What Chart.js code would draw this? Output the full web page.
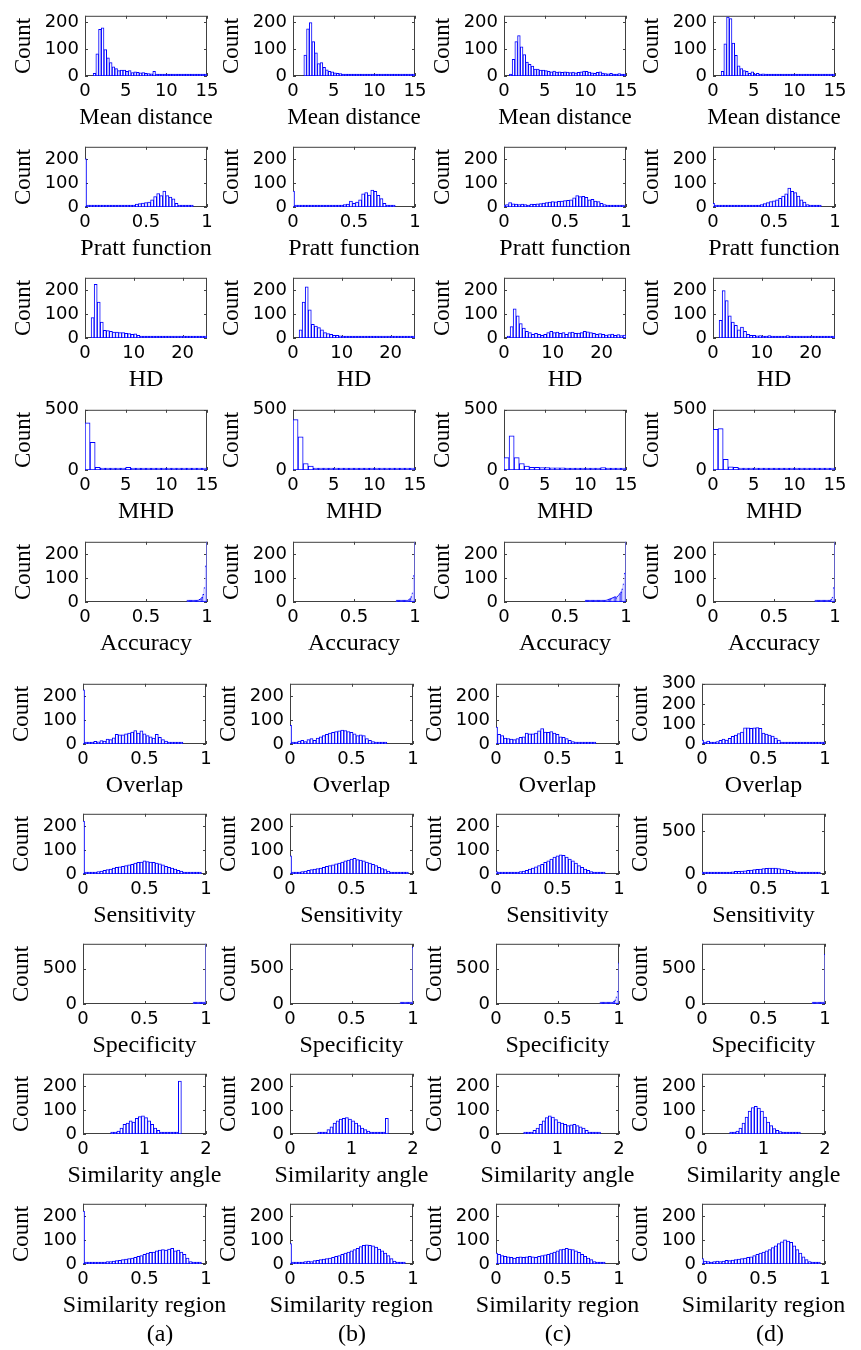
<!DOCTYPE html>
<html lang="en">
<head>
<meta charset="UTF-8">
<title>Histograms of segmentation measures</title>
<style>
    body { margin: 0; background: #fff; }
    #page { position: relative; width: 861px; height: 1350px; overflow: hidden; }
    #page canvas { position: absolute; }
    .panel-label {
        position: absolute;
        font-family: "Liberation Serif", serif;
        font-size: 24px;
        color: #000;
        transform: translate(-50%, -50%);
    }
</style>
</head>
<body>
<div id="page"></div>

<script src="https://cdn.jsdelivr.net/npm/chart.js"></script>
<script>
// ---- data (counts per bin; null = no bin there) ----
var rowTitles = ['Mean distance', 'Pratt function', 'HD', 'MHD', 'Accuracy',
                 'Overlap', 'Sensitivity', 'Specificity', 'Similarity angle', 'Similarity region'];
var panelLetters = ['(a)', '(b)', '(c)', '(d)'];

var xRange = [[0, 15], [0, 1], [0, 25], [0, 15], [0, 1], [0, 1], [0, 1], [0, 1], [0, 2], [0, 1]];
var xTicks = [[0, 5, 10, 15], [0, 0.5, 1], [0, 10, 20], [0, 5, 10, 15], [0, 0.5, 1],
              [0, 0.5, 1], [0, 0.5, 1], [0, 0.5, 1], [0, 1, 2], [0, 0.5, 1]];
var yTicks = [
    [[0, 100, 200], [0, 100, 200], [0, 100, 200], [0, 100, 200]],
    [[0, 100, 200], [0, 100, 200], [0, 100, 200], [0, 100, 200]],
    [[0, 100, 200], [0, 100, 200], [0, 100, 200], [0, 100, 200]],
    [[0, 500], [0, 500], [0, 500], [0, 500]],
    [[0, 100, 200], [0, 100, 200], [0, 100, 200], [0, 100, 200]],
    [[0, 100, 200], [0, 100, 200], [0, 100, 200], [0, 100, 200, 300]],
    [[0, 100, 200], [0, 100, 200], [0, 100, 200], [0, 500]],
    [[0, 500], [0, 500], [0, 500], [0, 500]],
    [[0, 100, 200], [0, 100, 200], [0, 100, 200], [0, 100, 200]],
    [[0, 100, 200], [0, 100, 200], [0, 100, 200], [0, 100, 200]]
];
var yMax = [
    [225, 225, 225, 225], [250, 250, 250, 250], [250, 250, 250, 250], [500, 500, 500, 500],
    [250, 250, 250, 250], [250, 250, 250, 300], [250, 250, 250, 700], [850, 850, 850, 850],
    [250, 250, 250, 250], [250, 250, 250, 250]
];

// bin width per row, and centre of the first listed bin per panel
var binWidth = [1 / 3, 0.025, 0.625, 0.625, 0.01, 0.025, 0.025, 0.01, 0.05, 0.025];
var firstBin = [
    [1 / 6, 1 / 6, 1 / 6, 1 / 6],
    [0, 0, 0, 0],
    [0.3125, 0.3125, 0.3125, 0.3125],
    [0.3125, 0.3125, 0.3125, 0.3125],
    [0.84, 0.85, 0.67, 0.84],
    [0, 0, 0, 0],
    [0, 0, 0, 0],
    [0.90, 0.90, 0.85, 0.90],
    [0.025, 0.025, 0.025, 0.025],
    [0, 0, 0, 0]
];

var meanDistance = [
    [null, null, null, 10, 83, 174, 180, 99, 68, 50, 34, 28, 20, 22, 22, 17, 20, 13, 16, 14, 12, 13, 10, 9, 8, 17, 7, 5, 6, 4, 3, 6, 3, 2, 4, 5, 3, 2, 4, 2, 1, 2, 1, 0, 1],
    [null, null, null, null, 78, 176, 200, 129, 87, 46, 50, 32, 23, 17, 16, 12, 10, 9, 7, 6, 5, 6, 5, 4, 4, 3, 5, 3, 2, 3, 2, 4, 2, 1, 3, 2, 1, 2, 1, 1, 2, 1, 0, 1, 0],
    [null, null, 3, 62, 129, 151, 109, 80, 52, 44, 37, 26, 26, 22, 22, 20, 17, 16, 18, 15, 16, 14, 16, 15, 13, 15, 12, 14, 16, 18, 17, 15, 12, 10, 14, 16, 11, 9, 8, 10, 7, 6, 9, 5, 4],
    [null, null, null, 17, 120, 220, 215, 123, 77, 38, 28, 20, 17, 10, 16, 7, 10, 6, 8, 5, 6, 4, 5, 3, 4, 3, 2, 3, 2, 1, 2, 1, 2, 1, 1, 1, 0, 1, 1, 0, 1, 0, 0, 1, 0]
];
var pratt = [
    [200, 2, 1, 3, 2, 2, 3, 2, 3, 2, 3, 4, 3, 4, 5, 4, 8, 12, 14, 16, 18, 20, 30, 43, 56, 47, 66, 47, 41, 34, 15, 5, 2, 1, 1, 0, null, null, null, null],
    [66, 1, 0, 2, 1, 2, 1, 2, 3, 2, 3, 2, 4, 5, 5, 6, 8, 10, 12, 25, 15, 20, 30, 55, 60, 50, 70, 65, 48, 35, 15, 5, 2, 0, null, null, null, null, null, null],
    [8, 10, 18, 13, 12, 10, 12, 10, 8, 12, 11, 13, 14, 16, 18, 20, 22, 21, 24, 25, 27, 28, 30, 38, 47, 43, 44, 40, 30, 32, 25, 22, 15, 10, 8, 5, 3, 2, 1, 0],
    [15, 3, 1, 2, 1, 2, 3, 2, 3, 4, 3, 4, 5, 4, 6, 8, 10, 14, 18, 22, 26, 30, 36, 45, 55, 79, 65, 60, 45, 30, 20, 10, 5, 2, 1, 0, null, null, null, null]
];
var hd = [
    [null, null, 85, 223, 149, 66, 32, 31, 28, 25, 25, 22, 22, 19, 18, 15, 17, 11, 8, 5, 4, 3, 4, 3, 3, 8, 6, 4, 3, 2, 3, 2, 2, 3, 2, 2, 1, 2, 2, 2],
    [null, null, 34, 149, 213, 117, 57, 50, 43, 34, 22, 18, 15, 11, 11, 9, 8, 6, 5, 5, 4, 5, 4, 5, 4, 6, 5, 4, 3, 3, 4, 5, 3, 2, 4, 3, 2, 2, 3, 2],
    [null, 6, 47, 121, 92, 60, 41, 28, 22, 15, 19, 15, 11, 15, 22, 28, 22, 25, 19, 22, 15, 22, 25, 19, 20, 22, 28, 26, 22, 19, 15, 18, 15, 12, 14, 16, 11, 14, 10, 12],
    [null, null, 73, 197, 155, 92, 66, 53, 34, 45, 28, 15, 11, 11, 9, 10, 8, 7, 10, 6, 5, 6, 5, 8, 10, 6, 4, 7, 5, 3, 6, 4, 3, 4, 3, 2, 3, 4, 2, 3]
];
var mhd = [
    [392, 230, 22, 12, 8, 6, 8, 10, 22, 12, 12, 14, 12, 10, 11, 9, 8, 7, 9, 6, 4, 3, 4, 5],
    [419, 276, 54, 32, 14, 10, 9, 8, 10, 9, 11, 8, 7, 6, 8, 6, 5, 7, 5, 4, 6, 3, 4, 3],
    [103, 284, 103, 54, 32, 22, 22, 20, 20, 18, 18, 17, 15, 12, 15, 14, 12, 10, 12, 20, 5, 4, 3, 3],
    [338, 343, 89, 27, 22, 14, 10, 8, 7, 6, 5, 8, 10, 5, 4, 6, 5, 4, 3, 4, 3, 2, 3, 2]
];
var accuracy = [
    [1, 2, 2, 3, 3, 4, 5, 6, 7, 9, 11, 14, 20, 32, 60, 150, 420],
    [1, 1, 2, 2, 3, 3, 4, 5, 6, 8, 10, 14, 22, 38, 110, 460],
    [2, 3, 3, 3, 3, 4, 4, 4, 4, 5, 5, 5, 5, 6, 6, 7, 8, 9, 10, 12, 14, 16, 18, 20, 22, 18, 25, 30, 35, 42, 55, 75, 120, 300],
    [1, 1, 1, 1, 2, 2, 2, 3, 3, 4, 5, 6, 8, 12, 20, 60, 480]
];
var overlap = [
    [225, 3, 4, 8, 11, 9, 14, 12, 20, 18, 26, 40, 38, 38, 42, 45, 50, 56, 45, 55, 42, 35, 30, 25, 40, 28, 18, 12, 8, 5, 3, 1, 0, null, null, null, null, null, null, null],
    [78, 4, 6, 12, 15, 10, 18, 22, 15, 25, 30, 35, 40, 45, 48, 52, 55, 58, 56, 52, 48, 42, 35, 38, 35, 22, 15, 10, 5, 3, 1, 0, null, null, null, null, null, null, null, null],
    [70, 40, 35, 25, 22, 20, 18, 22, 28, 30, 45, 42, 42, 45, 55, 64, 50, 48, 52, 45, 40, 30, 28, 22, 15, 10, 8, 5, 3, 2, 1, 1, 0, null, null, null, null, null, null, null],
    [20, 10, 15, 8, 10, 12, 18, 25, 20, 28, 38, 45, 52, 60, 80, 80, 78, 80, 82, 78, 55, 50, 45, 40, 30, 20, 10, 5, 3, 2, 1, 0, 0, 0, 0, 0, 0, 0, 0, 0, 3]
];
var sensitivity = [
    [220, 3, 4, 6, 8, 10, 12, 15, 18, 20, 25, 28, 30, 32, 35, 38, 40, 45, 48, 50, 55, 52, 50, 48, 45, 42, 38, 32, 28, 25, 20, 15, 12, 8, 5, 3, 2, 1, 0, null],
    [75, 5, 6, 8, 10, 12, 15, 18, 20, 22, 25, 28, 32, 35, 38, 42, 45, 50, 55, 58, 62, 65, 60, 58, 55, 50, 45, 40, 35, 28, 22, 18, 12, 8, 5, 3, 2, 1, 0, null],
    [10, 3, 2, 3, 4, 5, 6, 8, 10, 12, 15, 20, 25, 30, 35, 40, 48, 55, 62, 70, 75, 80, 78, 70, 62, 55, 45, 35, 28, 20, 15, 10, 5, 3, 1, 0, null, null, null, null],
    [10, 4, 5, 6, 8, 10, 12, 15, 18, 22, 25, 30, 32, 35, 38, 42, 45, 50, 55, 58, 62, 65, 68, 70, 68, 62, 58, 50, 42, 35, 28, 20, 15, 10, 6, 3, 2, 1, 0, null]
];
var specificity = [
    [0, 0, 0, 0, 1, 1, 2, 2, 3, 5, 900],
    [0, 0, 0, 1, 1, 2, 2, 3, 5, 9, 800],
    [2, 3, 4, 5, 6, 8, 10, 12, 15, 20, 28, 40, 60, 100, 180, 580],
    [1, 1, 1, 2, 2, 3, 4, 6, 10, 25, 700]
];
var simAngle = [
    [null, null, null, null, null, null, null, null, null, 2, 5, 12, 25, 40, 45, 55, 50, 65, 72, 75, 68, 55, 40, 25, 15, 8, 4, 2, 1, 1, 0, 220, null, null, null, null, null, null, null, null],
    [null, null, null, null, null, null, null, null, null, 1, 3, 8, 18, 30, 45, 55, 62, 65, 68, 62, 55, 45, 35, 25, 18, 12, 8, 5, 4, 3, 2, 65, null, null, null, null, null, null, null, null],
    [null, null, null, null, null, null, null, null, null, 1, 3, 8, 15, 25, 40, 55, 68, 75, 70, 60, 50, 45, 40, 35, 38, 40, 35, 30, 25, 15, 8, 3, 1, 0, null, null, null, null, null, null],
    [null, null, null, null, null, null, null, null, null, 2, 5, 12, 25, 45, 70, 95, 110, 115, 108, 95, 70, 50, 35, 22, 15, 10, 6, 4, 3, 2, 1, 0, null, null, null, null, null, null, null, null]
];
var simRegion = [
    [220, 2, 3, 4, 5, 5, 6, 8, 10, 10, 12, 14, 15, 18, 20, 22, 25, 28, 32, 35, 40, 45, 48, 50, 55, 58, 60, 58, 62, 65, 55, 58, 50, 40, 25, 10, 3, 1, 0, null],
    [85, 3, 4, 5, 8, 10, 12, 10, 14, 15, 18, 20, 22, 25, 28, 32, 35, 40, 45, 50, 55, 60, 65, 72, 78, 80, 78, 75, 70, 62, 55, 45, 35, 22, 12, 5, 2, 0, null, null],
    [45, 40, 35, 32, 30, 28, 25, 28, 30, 28, 30, 32, 30, 28, 32, 35, 38, 40, 45, 50, 55, 60, 62, 65, 62, 60, 55, 48, 40, 32, 25, 18, 10, 5, 2, 0, null, null, null, null],
    [22, 12, 10, 8, 10, 12, 10, 12, 15, 14, 16, 18, 20, 22, 25, 28, 30, 35, 40, 45, 50, 55, 60, 68, 75, 85, 92, 100, 95, 90, 75, 60, 45, 30, 18, 10, 5, 2, 0, null]
];
var rowData = [meanDistance, pratt, hd, mhd, accuracy, overlap, sensitivity, specificity, simAngle, simRegion];

// ---- layout of the plot boxes on the page ----
var colLeft = [[85, 293, 504, 713], [83, 290, 496, 702]];
var plotWidth = [122, 123];
var rowTop = [13, 144, 275, 407, 539, 681, 811, 941, 1071, 1201];
var plotHeight = 63;
var labelX = [160, 352, 558, 770];
var labelY = 1333;

var AXIS_W = 85, AXIS_H = 62, PAD_TOP = 14, PAD_RIGHT = 36;

// box around the axes with small inward ticks (under the bars), plus the x label
var framePlugin = {
    id: 'frame',
    beforeDatasetsDraw: function (chart) {
        var ctx = chart.ctx, a = chart.chartArea, x = chart.scales.x, y = chart.scales.y;
        ctx.save();
        ctx.strokeStyle = '#404040';
        ctx.lineWidth = 1;
        ctx.strokeRect(a.left + 0.5, a.top + 0.5, a.right - a.left - 1, a.bottom - a.top - 1);
        ctx.beginPath();
        x.ticks.forEach(function (t) {
            var px = Math.round(x.getPixelForValue(t.value)) + 0.5;
            ctx.moveTo(px, a.bottom); ctx.lineTo(px, a.bottom - 3);
            ctx.moveTo(px, a.top); ctx.lineTo(px, a.top + 3);
        });
        y.ticks.forEach(function (t) {
            var py = Math.round(y.getPixelForValue(t.value)) + 0.5;
            ctx.moveTo(a.left, py); ctx.lineTo(a.left + 3, py);
            ctx.moveTo(a.right, py); ctx.lineTo(a.right - 3, py);
        });
        ctx.stroke();
        ctx.restore();
    },
    afterDraw: function (chart, args, opts) {
        var ctx = chart.ctx, a = chart.chartArea;
        ctx.save();
        ctx.fillStyle = '#000';
        ctx.font = opts.size + 'px "Liberation Serif"';
        ctx.textAlign = 'center';
        ctx.textBaseline = 'middle';
        ctx.fillText(opts.text, (a.left + a.right) / 2, a.bottom + 42);
        ctx.restore();
    }
};

function makePanel(row, col) {
    var page = document.getElementById('page');
    var g = row < 5 ? 0 : 1;
    var left = colLeft[g][col], w = plotWidth[g], top = rowTop[row];

    var canvas = document.createElement('canvas');
    canvas.width = AXIS_W + w + PAD_RIGHT;
    canvas.height = PAD_TOP + plotHeight + AXIS_H;
    canvas.style.left = (left - AXIS_W) + 'px';
    canvas.style.top = (top - PAD_TOP) + 'px';
    page.appendChild(canvas);

    var counts = rowData[row][col];
    var points = counts.map(function (c, i) {
        return { x: firstBin[row][col] + i * binWidth[row], y: c };
    });
    var xt = xTicks[row], yt = yTicks[row][col];

    new Chart(canvas, {
        type: 'bar',
        data: {
            datasets: [{
                data: points,
                backgroundColor: '#ffffff',
                borderColor: '#0000ff',
                borderWidth: 1,
                borderSkipped: false,
                minBarLength: 2,
                barPercentage: 1,
                categoryPercentage: 1,
                clip: 0
            }]
        },
        options: {
            responsive: false,
            animation: false,
            devicePixelRatio: 1,
            layout: { padding: { left: 0, right: PAD_RIGHT, top: PAD_TOP, bottom: 0 } },
            plugins: {
                legend: { display: false },
                tooltip: { enabled: false },
                frame: { text: rowTitles[row], size: row === 0 ? 23 : 24 }
            },
            scales: {
                x: {
                    type: 'linear',
                    min: xRange[row][0],
                    max: xRange[row][1],
                    offset: false,
                    grid: { display: false, drawTicks: false },
                    border: { display: false },
                    afterBuildTicks: function (s) { s.ticks = xt.map(function (v) { return { value: v }; }); },
                    afterFit: function (s) { s.height = AXIS_H; },
                    ticks: {
                        padding: 5, color: '#000', maxRotation: 0, autoSkip: false,
                        font: { family: 'DejaVu Sans', size: 18 },
                        callback: function (v) { return String(v); }
                    }
                },
                y: {
                    min: 0,
                    max: yMax[row][col],
                    grid: { display: false, drawTicks: false },
                    border: { display: false },
                    afterBuildTicks: function (s) { s.ticks = yt.map(function (v) { return { value: v }; }); },
                    afterFit: function (s) { s.width = AXIS_W; },
                    ticks: {
                        padding: 6, color: '#000', autoSkip: false,
                        font: { family: 'DejaVu Sans', size: 18 },
                        callback: function (v) { return String(v); }
                    },
                    title: {
                        display: true, text: 'Count', color: '#000',
                        font: { family: 'Liberation Serif', size: 23 },
                        padding: { top: 10, bottom: 0 }
                    }
                }
            }
        },
        plugins: [framePlugin]
    });
}

for (var r = 0; r < rowData.length; r++) {
    for (var c = 0; c < 4; c++) {
        makePanel(r, c);
    }
}

panelLetters.forEach(function (txt, i) {
    var d = document.createElement('div');
    d.className = 'panel-label';
    d.textContent = txt;
    d.style.left = labelX[i] + 'px';
    d.style.top = labelY + 'px';
    document.getElementById('page').appendChild(d);
});
</script>
</body>
</html>
